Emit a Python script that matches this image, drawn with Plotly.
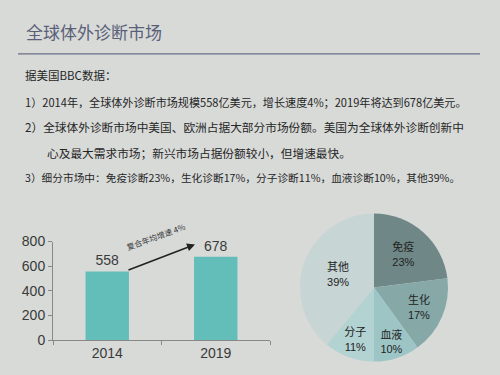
import plotly.graph_objects as go

# ---- data ----
years = ["2014", "2019"]
market_size = [558, 678]
y_ticks = [0, 200, 400, 600, 800]

segments = ["免疫", "生化", "血液", "分子", "其他"]
shares = [23, 17, 10, 11, 39]
seg_colors = ["#6f8786", "#86a9a8", "#9dc5c5", "#b3d2d2", "#c7d5d5"]

title_text = "全球体外诊断市场"
body_lines = [
    ("据美国BBC数据：", 23, 70, 11.5),
    ("1）2014年，全球体外诊断市场规模558亿美元，增长速度4%；2019年将达到678亿美元。", 23, 98, 11.1),
    ("2）全球体外诊断市场中美国、欧洲占据大部分市场份额。美国为全球体外诊断创新中", 23, 124, 11.7),
    ("心及最大需求市场；新兴市场占据份额较小，但增速最快。", 45, 151, 11.7),
    ("3）细分市场中：免疫诊断23%，生化诊断17%，分子诊断11%，血液诊断10%，其他39%。", 23, 177, 10.7),
]
cagr_text = "复合年均增速 4%"

W, H = 500, 375
def px(x):
    return x / W
def py(y):
    return 1 - y / H

BG = "#d8dad8"
CJK = "Noto Sans CJK SC"

fig = go.Figure()

fig.add_trace(go.Bar(
    x=years, y=market_size, width=0.4,
    marker=dict(color="#63bdb9", line=dict(width=0)),
    text=[str(v) for v in market_size], textposition="outside",
    textfont=dict(family="Liberation Sans", size=14, color="#3a3a3a"),
    cliponaxis=False, xaxis="x", yaxis="y", showlegend=False,
))

fig.add_trace(go.Pie(
    labels=segments, values=shares, sort=False, direction="clockwise", rotation=0,
    marker=dict(colors=seg_colors, line=dict(width=0)),
    text=[f"{s}<br>{v}%" for s, v in zip(segments, shares)],
    textinfo="text", textposition="inside", insidetextorientation="horizontal",
    textfont=dict(family="Liberation Sans, Noto Sans CJK SC", size=11, color="#222222"),
    domain=dict(x=[px(300), px(448)], y=[py(372), py(212)]),
    showlegend=False, hoverinfo="skip",
))

annotations = [
    dict(text=title_text, x=px(24), y=py(25), xref="paper", yref="paper",
         xanchor="left", yanchor="middle", showarrow=False,
         font=dict(family=CJK, size=17, color="#5a5f78")),
]
for txt, x0, y0, fs in body_lines:
    annotations.append(dict(text=txt, x=px(x0), y=py(y0), xref="paper", yref="paper",
                            xanchor="left", yanchor="middle", showarrow=False,
                            font=dict(family=CJK, size=fs, color="#262626")))
# arrow
annotations.append(dict(text="", x=px(195), y=py(247), xref="paper", yref="paper",
                        ax=-68, ay=26, showarrow=True, arrowhead=2, arrowsize=1,
                        arrowwidth=1.6, arrowcolor="#222222"))
annotations.append(dict(text=cagr_text, x=px(156), y=py(239), xref="paper", yref="paper",
                        xanchor="center", yanchor="middle",
                        showarrow=False, textangle=-20,
                        font=dict(family=CJK, size=8, color="#333333")))

fig.update_layout(
    width=W, height=H, margin=dict(l=0, r=0, t=0, b=0),
    paper_bgcolor=BG, plot_bgcolor=BG,
    xaxis=dict(domain=[px(53), px(270)], range=[-0.5, 1.5], type="category",
               tickson="boundaries", ticks="outside", ticklen=4, tickcolor="#888888",
               showline=True, linecolor="#888888", linewidth=1, showgrid=False,
               tickfont=dict(family="Liberation Sans", size=14, color="#3a3a3a"),
               fixedrange=True),
    yaxis=dict(domain=[py(347), py(244)], range=[0, 800], tickvals=y_ticks,
               ticks="outside", ticklen=4, tickcolor="#888888",
               showline=True, linecolor="#888888", linewidth=1, showgrid=False,
               zeroline=False,
               tickfont=dict(family="Liberation Sans", size=14, color="#3a3a3a"),
               fixedrange=True),
    annotations=annotations,
    shapes=[dict(type="line", xref="paper", yref="paper", x0=px(18), x1=px(480),
                 y0=py(48), y1=py(48), line=dict(color="#6a6e88", width=1.2))],
)

fig.write_html("out.html", config={"displayModeBar": False},
               post_script="document.body.style.margin='0';document.body.style.background='#d8dad8';")
